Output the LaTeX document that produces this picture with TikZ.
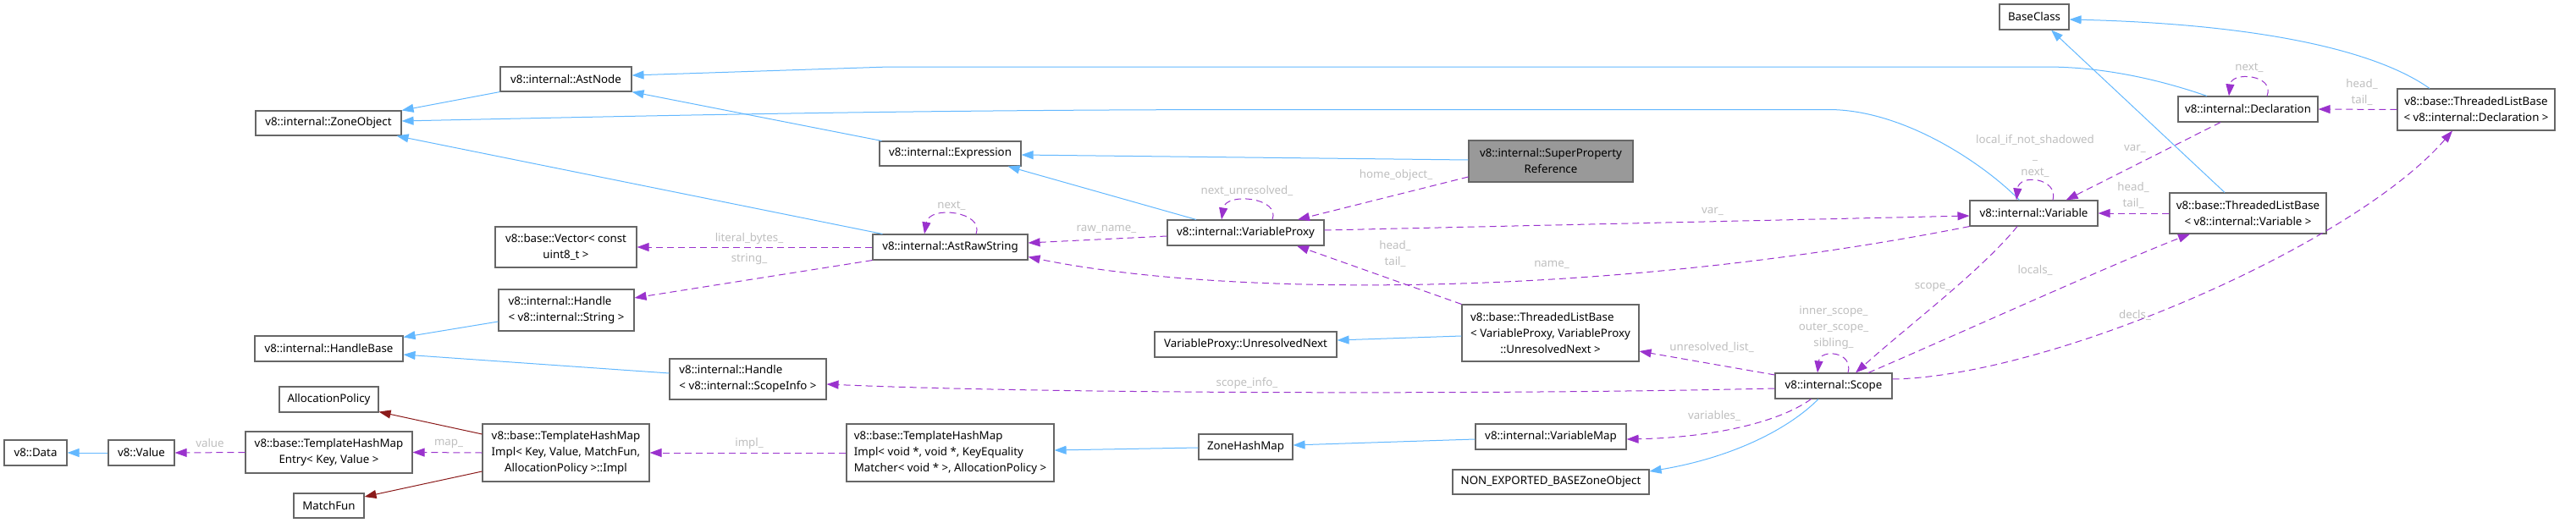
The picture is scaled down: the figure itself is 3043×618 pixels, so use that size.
\documentclass[tikz,border=0pt]{standalone}
\usepackage{fontspec}
\setmainfont{Noto Sans}
\usetikzlibrary{arrows.meta}
\definecolor{boxline}{HTML}{666666}
\definecolor{boxfill}{HTML}{999999}
\definecolor{inhblue}{HTML}{63B8FF}
\definecolor{usepurple}{HTML}{9A32CD}
\definecolor{tmplred}{HTML}{8B1A1A}
\definecolor{lblgray}{HTML}{BEBEBE}
\begin{document}
\begin{tikzpicture}[x=1pt,y=-1pt,
 every node/.style={font=\fontsize{13.3}{19}\selectfont},
 cls/.style={draw=boxline, line width=1.1pt, fill=white, inner sep=0pt, align=center},
 inh/.style={draw=inhblue, line width=1pt, -{Triangle[length=14pt,width=10pt]}},
 usage/.style={draw=usepurple, line width=1pt, dash pattern=on 8pt off 5pt, -{Triangle[length=14pt,width=10pt]}},
 tmpl/.style={draw=tmplred, line width=1pt, -{Triangle[length=14pt,width=10pt]}},
 lbl/.style={text=lblgray, inner sep=0pt, align=center},
]
\useasboundingbox (0,0) rectangle (3043,618);

% nodes
\node[cls, minimum width=172pt, minimum height=29pt] (zone) at (388,145.5) {v8::internal::ZoneObject};
\node[cls, minimum width=155pt, minimum height=29pt] (ast) at (668.5,93.5) {v8::internal::AstNode};
\node[cls, minimum width=167pt, minimum height=48pt] (vec) at (668.5,292) {v8::base::Vector< const\\uint8\_t >};
\node[cls, minimum width=167pt, minimum height=29pt] (expr) at (1122.5,181.5) {v8::internal::Expression};
\node[cls, minimum width=183pt, minimum height=30pt] (raw) at (1122.5,292) {v8::internal::AstRawString};
\node[cls, minimum width=185pt, minimum height=30pt] (vp) at (1471.5,275) {v8::internal::VariableProxy};
\node[cls, fill=boxfill, minimum width=194pt, minimum height=49pt] (spr) at (1832,190.5) {v8::internal::SuperProperty\\Reference};
\node[cls, minimum width=82pt, minimum height=30pt] (base) at (2403,20) {BaseClass};
\node[cls, minimum width=151pt, minimum height=30pt] (var) at (2402.5,252) {v8::internal::Variable};
\node[cls, minimum width=165pt, minimum height=30pt] (decl) at (2655.5,129) {v8::internal::Declaration};
\node[cls, minimum width=186pt, minimum height=49pt] (tlbd) at (2925,129.5) {v8::base::ThreadedListBase\\< v8::internal::Declaration >};
\node[cls, minimum width=185pt, minimum height=48pt] (tlbv) at (2655.5,252) {v8::base::ThreadedListBase\\< v8::internal::Variable >};
\node[cls, minimum width=175pt, minimum height=30pt] (hb) at (388.5,412) {v8::internal::HandleBase};
\node[cls, minimum width=117pt, minimum height=30pt] (ap) at (388.5,472) {AllocationPolicy};
\node[cls, minimum width=74pt, minimum height=30pt] (data) at (42,535) {v8::Data};
\node[cls, minimum width=78pt, minimum height=30pt] (val) at (167,535) {v8::Value};
\node[cls, minimum width=197pt, minimum height=49pt] (entry) at (388.5,534.5) {v8::base::TemplateHashMap\\Entry< Key, Value >};
\node[cls, minimum width=83pt, minimum height=29pt] (mf) at (388.5,597.5) {MatchFun};
\node[cls, align=left, minimum width=160pt, minimum height=49pt] (hs) at (669,366.5) {v8::internal::Handle\\< v8::internal::String >};
\node[cls, align=left, minimum width=185pt, minimum height=48pt] (hsi) at (883.5,448) {v8::internal::Handle\\< v8::internal::ScopeInfo >};
\node[cls, minimum width=197pt, minimum height=68pt] (impl) at (668.5,535) {v8::base::TemplateHashMap\\Impl< Key, Value, MatchFun,\\AllocationPolicy >::Impl};
\node[cls, align=left, minimum width=245pt, minimum height=68pt] (iv) at (1122.5,535) {v8::base::TemplateHashMap\\Impl< void *, void *, KeyEquality\\Matcher< void * >, AllocationPolicy >};
\node[cls, minimum width=215pt, minimum height=30pt] (un) at (1471.5,407) {VariableProxy::UnresolvedNext};
\node[cls, minimum width=111pt, minimum height=30pt] (zhm) at (1471.5,528) {ZoneHashMap};
\node[cls, minimum width=209pt, minimum height=67pt] (tvp) at (1831.5,393.5) {\rlap{v8::base::ThreadedListBase}\phantom{< VariableProxy, VariableProxy}\\< VariableProxy, VariableProxy\\::UnresolvedNext >};
\node[cls, minimum width=178pt, minimum height=30pt] (vm) at (1832,516) {v8::internal::VariableMap};
\node[cls, minimum width=232pt, minimum height=29pt] (ne) at (1832,569.5) {NON\_EXPORTED\_BASEZoneObject};
\node[cls, minimum width=138pt, minimum height=30pt] (scope) at (2166,456) {v8::internal::Scope};

% inheritance (blue)
\draw[inh] (ast.south west) -- (zone.north east);
\draw[inh] ([xshift=-17pt]var.north) .. controls (2345,195) and (2250,129.5) .. (2160,129.5) -- (1500,129.5) .. controls (1100,129.5) and (800,136) .. ([yshift=2.5pt]zone.east);
\draw[inh] ([xshift=12pt]raw.north west) -- ([xshift=-6pt]zone.south east);
\draw[inh] ([xshift=3pt]expr.north west) -- (ast.south east);
\draw[inh] ([xshift=-48.5pt]decl.north) .. controls (2545,92) and (2480,79) .. (2417,79) -- (1050,79) -- ([yshift=4.5pt]ast.east);
\draw[inh] ([yshift=1.5pt]spr.west) -- ([yshift=-1.5pt]expr.east);
\draw[inh] ([xshift=-58.5pt]vp.north) -- ([xshift=-16pt]expr.south east);
\draw[inh] ([xshift=-55pt]tlbd.north) .. controls (2800,55) and (2650,28) .. ([yshift=-3pt]base.east);
\draw[inh] ([xshift=-27.5pt]tlbv.north) -- ([xshift=20pt]base.south);
\draw[inh] ([yshift=-13.5pt]hs.west) -- ([yshift=-2pt]hb.north east);
\draw[inh] ([yshift=7pt]hsi.west) -- ([yshift=-7pt]hb.east);
\draw[inh] (val.west) -- (data.east);
\draw[inh] ([yshift=-1pt]zhm.west) -- ([yshift=3pt]iv.east);
\draw[inh] ([yshift=-3pt]vm.west) -- ([yshift=2pt]zhm.east);
\draw[inh] ([yshift=-3.5pt]tvp.west) -- ([yshift=5pt]un.east);
\draw[inh] ([xshift=-18pt]scope.south) .. controls (2115,505) and (2050,540) .. ([yshift=12.5pt]ne.east);

% template arguments (red)
\draw[tmpl] ([yshift=22pt]impl.west) -- ([yshift=1pt]ap.south east);
\draw[tmpl] ([yshift=-22pt]impl.west) -- ([yshift=10.5pt]mf.east);

% usage (purple dashed)
\draw[usage] (entry.west) -- (val.east);
\draw[usage] (impl.west) -- (entry.east);
\draw[usage] (iv.west) -- (impl.east);
\draw[usage] ([yshift=-4pt]vp.west) -- ([yshift=5pt]raw.east);
\draw[usage] (raw.west) -- (vec.east);
\draw[usage] (raw.south west) -- ([yshift=14.5pt]hs.east);
\draw[usage] ([xshift=30.5pt]raw.north) .. controls (1163,250) and (1098,242) .. ([xshift=-30.5pt]raw.north);
\draw[usage] ([xshift=31.5pt]vp.north) .. controls (1513,233) and (1448,227) .. ([xshift=-28.5pt]vp.north);
\draw[usage] ([yshift=-18.5pt]spr.west) -- ([xshift=61.5pt]vp.north);
\draw[usage] ([yshift=3pt]vp.east) -- ([yshift=-3pt]var.west);
\draw[usage] (var.south west) .. controls (1900,352) and (1450,352) .. ([yshift=4pt]raw.south east);
\draw[usage] (tvp.north west) -- ([xshift=60.5pt]vp.south);
\draw[usage] ([xshift=-32.5pt]decl.south) -- ([xshift=-38pt]var.north east);
\draw[usage] ([xshift=22.5pt]var.north) .. controls (2432,210) and (2385,205) .. ([xshift=-20.5pt]var.north);
\draw[usage] (tlbv.west) -- (var.east);
\draw[usage] (tlbd.west) -- (decl.east);
\draw[usage] ([xshift=22.5pt]decl.north) .. controls (2688,88) and (2636,84) .. ([xshift=-22.5pt]decl.north);
\draw[usage] ([xshift=-19.5pt]var.south) .. controls (2340,320) and (2260,380) .. ([xshift=26pt]scope.north);
\draw[usage] ([xshift=41pt]scope.north) .. controls (2290,405) and (2500,310) .. ([xshift=-68.5pt]tlbv.south);
\draw[usage] ([yshift=8pt]scope.east) .. controls (2420,445) and (2780,290) .. ([xshift=-28pt]tlbd.south);
\draw[usage] ([yshift=13pt]scope.west) -- ([yshift=-21.5pt]tvp.east);
\draw[usage] ([yshift=-3pt]scope.west) .. controls (1800,466) and (1250,466) .. ([yshift=-6pt]hsi.east);
\draw[usage] ([xshift=43pt]scope.south west) .. controls (2100,500) and (2020,517) .. ([yshift=-3pt]vm.east);
\draw[usage] ([xshift=17pt]scope.north) .. controls (2190,415) and (2150,412) .. ([xshift=-19pt]scope.north);

% labels
\node[lbl] (l1) at (248,524) {value};
\node[lbl] (l2) at (530,524) {map\_};
\node[lbl] (l3) at (885,524) {impl\_};
\node[lbl] (l4) at (1307,271) {raw\_name\_};
\node[lbl] (l5) at (885,282) {literal\_bytes\_};
\node[lbl] (l6) at (885,306) {string\_};
\node[lbl] (l7) at (1124,243) {next\_};
\node[lbl] (l8) at (1473,225) {next\_unresolved\_};
\node[lbl] (l9) at (1649,207) {home\_object\_};
\node[lbl] (l10) at (2023,250) {var\_};
\node[lbl] (l11) at (1833,313) {name\_};
\node[lbl] (l12) at (1648,300) {head\_\\tail\_};
\node[lbl] (l13) at (2522,176) {var\_};
\node[lbl] (l14) at (2404,184) {local\_if\_not\_shadowed\\\_\\next\_};
\node[lbl] (l15) at (2520,231) {head\_\\tail\_};
\node[lbl] (l16) at (2790,109) {head\_\\tail\_};
\node[lbl] (l17) at (2657,80) {next\_};
\node[lbl] (l18) at (2283,339) {scope\_};
\node[lbl] (l19) at (2404,319) {locals\_};
\node[lbl] (l20) at (2522,372) {decls\_};
\node[lbl] (l21) at (2022,410) {unresolved\_list\_};
\node[lbl] (l22) at (1473,453) {scope\_info\_};
\node[lbl] (l23) at (2025,491) {variables\_};
\node[lbl] (l24) at (2166,387) {inner\_scope\_\\outer\_scope\_\\sibling\_};
\end{tikzpicture}
\end{document}
